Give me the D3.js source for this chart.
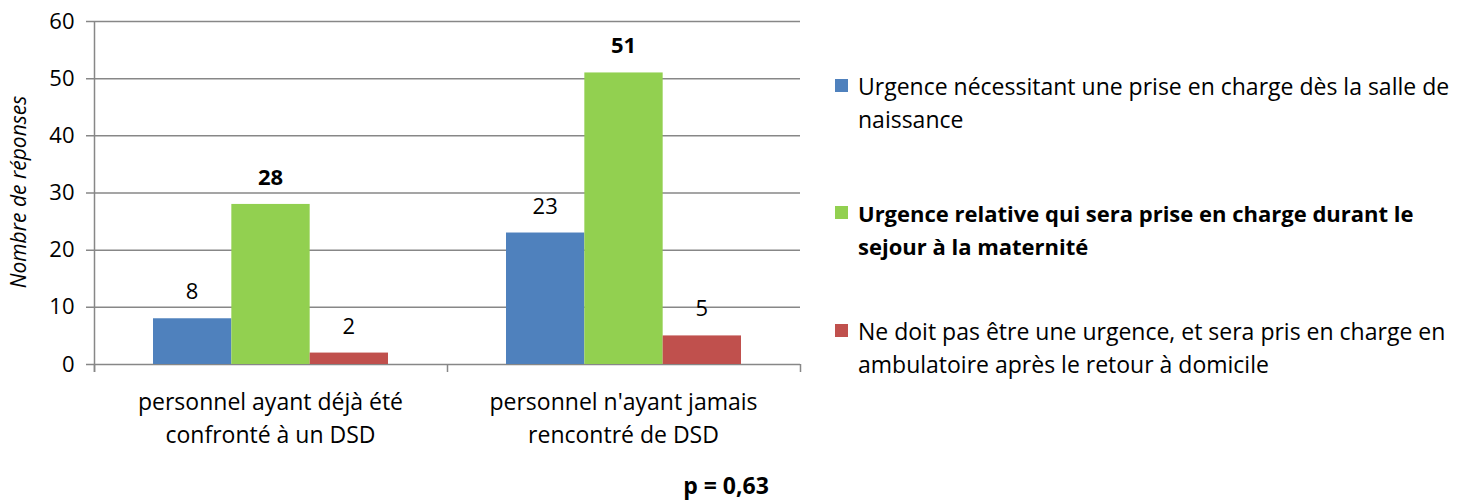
<!DOCTYPE html>
<html>
  <head>
    <meta charset="utf-8" />
    <title>Nombre de réponses</title>
    <script src="https://d3js.org/d3.v7.min.js"></script>
    <style>
        body { margin: 0; background: #fff; }
        text { font-family: "Open Sans", sans-serif; fill: #000; }
    </style>
  </head>
<body>
    <svg id="chart" width="1471" height="501"></svg>

    <script>
        // categories (one entry per line of the label)
        var categories = [
            ["personnel ayant déjà été", "confronté à un DSD"],
            ["personnel n'ayant jamais", "rencontré de DSD"]
        ];

        var seriesNames = [
            ["Urgence nécessitant une prise en charge dès la salle de", "naissance"],
            ["Urgence relative qui sera prise en charge durant le", "sejour à la maternité"],
            ["Ne doit pas être une urgence, et sera pris en charge en", "ambulatoire après le retour à domicile"]
        ];

        var seriesValues = [
            [8, 23],
            [28, 51],
            [2, 5]
        ];

        var seriesBold = [false, true, false];
        var colors = ["#4F81BD", "#92D050", "#C0504D"];
        var yTicks = [0, 10, 20, 30, 40, 50, 60];
        var pValue = "p = 0,63";

        var svg = d3.select("#chart");
        var mLeft = 94, mRight = 800, mTop = 21, mBottom = 364;
        var grid = "#878787";

        var x = d3.scaleBand()
            .domain(d3.range(categories.length))
            .range([mLeft, mRight]);

        var inner = d3.scaleBand()
            .domain(d3.range(seriesValues.length))
            .range([59, x.bandwidth() - 59]);

        var y = d3.scaleLinear().domain([0, 60]).range([mBottom, mTop]);

        // gridlines
        svg.append("g").selectAll("line")
            .data(yTicks)
            .enter().append("line")
            .attr("x1", mLeft - 8)
            .attr("x2", mRight)
            .attr("y1", function(d) { return y(d) + 0.5; })
            .attr("y2", function(d) { return y(d) + 0.5; })
            .attr("stroke", grid)
            .attr("stroke-width", 1.5);

        // y axis
        var yAxis = svg.append("g")
            .attr("transform", "translate(" + (mLeft + 0.5) + ",0)")
            .call(d3.axisLeft(y).tickValues(yTicks).tickSize(8).tickPadding(10));
        yAxis.select(".domain").attr("stroke", grid).attr("stroke-width", 1.5)
            .attr("d", "M0," + mTop + "V" + (mBottom + 8));
        yAxis.selectAll(".tick line").remove();
        yAxis.selectAll(".tick text")
            .style("font-size", "22px")
            .style("font-family", "'Open Sans', sans-serif")
            .attr("fill", "#000")
            .attr("x", -20);

        // category separators below the axis
        var seps = d3.range(categories.length + 1).map(function(i) {
            return i < categories.length ? x(i) : x(i - 1) + x.bandwidth();
        });
        svg.append("g").selectAll("line")
            .data(seps)
            .enter().append("line")
            .attr("x1", function(d) { return d + 0.5; })
            .attr("x2", function(d) { return d + 0.5; })
            .attr("y1", mBottom)
            .attr("y2", mBottom + 8)
            .attr("stroke", grid)
            .attr("stroke-width", 1.5);

        // bars
        seriesValues.forEach(function(vals, s) {
            var g = svg.append("g");
            g.selectAll("rect")
                .data(vals)
                .enter().append("rect")
                .attr("x", function(d, i) { return x(i) + inner(s); })
                .attr("y", function(d) { return y(d); })
                .attr("width", inner.bandwidth())
                .attr("height", function(d) { return y(0) - y(d); })
                .attr("fill", colors[s]);

            g.selectAll("text")
                .data(vals)
                .enter().append("text")
                .attr("x", function(d, i) { return x(i) + inner(s) + inner.bandwidth() / 2; })
                .attr("y", function(d) { return y(d) - 19; })
                .attr("text-anchor", "middle")
                .style("font-size", "22px")
                .style("font-weight", seriesBold[s] ? "bold" : "normal")
                .text(function(d) { return d; });
        });

        // category labels
        var cat = svg.append("g").selectAll("text")
            .data(categories)
            .enter().append("text")
            .attr("text-anchor", "middle")
            .style("font-size", "23px");
        cat.selectAll("tspan")
            .data(function(d, i) { return d.map(function(l) { return { line: l, i: i }; }); })
            .enter().append("tspan")
            .attr("x", function(d) { return x(d.i) + x.bandwidth() / 2; })
            .attr("y", function(d, j) { return 410 + j * 33; })
            .text(function(d) { return d.line; });

        // y axis title
        svg.append("text")
            .attr("transform", "translate(26,192) rotate(-90)")
            .attr("text-anchor", "middle")
            .style("font-size", "21px")
            .style("font-style", "italic")
            .text("Nombre de réponses");

        // p value
        svg.append("text")
            .attr("x", 726)
            .attr("y", 494)
            .attr("text-anchor", "middle")
            .style("font-size", "23px")
            .style("font-weight", "bold")
            .text(pValue);

        // legend
        var legendY = [95, 222, 340];
        var legend = svg.append("g").selectAll("g")
            .data(seriesNames)
            .enter().append("g")
            .attr("transform", function(d, i) { return "translate(835," + legendY[i] + ")"; });
        legend.append("rect")
            .attr("x", 0)
            .attr("y", -16)
            .attr("width", 13)
            .attr("height", 13)
            .attr("fill", function(d, i) { return colors[i]; });
        legend.append("text")
            .style("font-size", function(d, i) { return seriesBold[i] ? "22px" : "23px"; })
            .style("font-weight", function(d, i) { return seriesBold[i] ? "bold" : "normal"; })
            .selectAll("tspan")
            .data(function(d) { return d; })
            .enter().append("tspan")
            .attr("x", 23)
            .attr("y", function(d, j) { return j * 33; })
            .text(function(d) { return d; });
    </script>
</body>
</html>
